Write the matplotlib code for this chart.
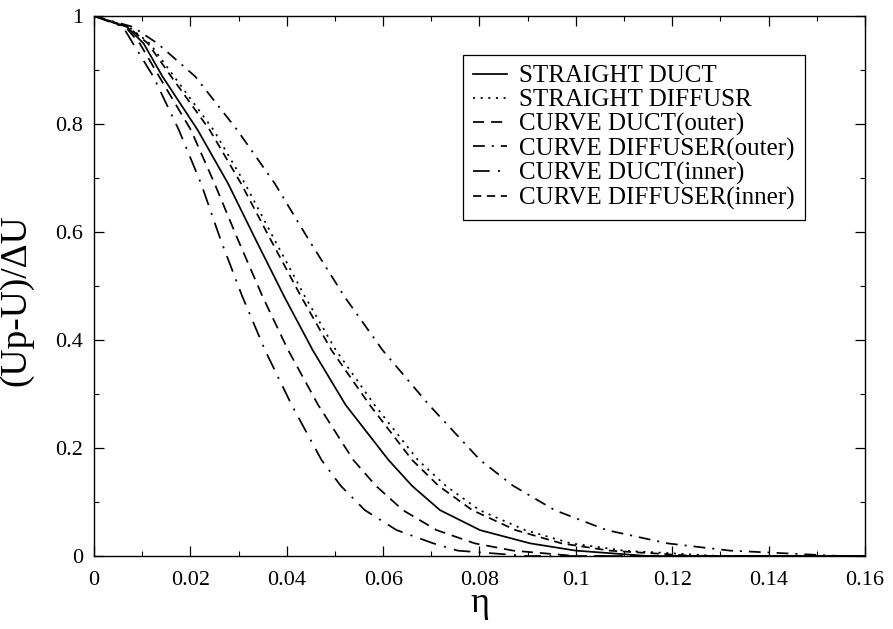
import numpy as np
import matplotlib
matplotlib.use('Agg')
import matplotlib.pyplot as plt
from matplotlib.ticker import MultipleLocator, FuncFormatter

# values: (Up-U)/dU levels and eta where each curve crosses them
levels = [1.0, 0.98, 0.949, 0.888, 0.789, 0.69, 0.585, 0.48, 0.381, 0.28,
          0.178, 0.13, 0.085, 0.048, 0.0235, 0.01, 0.0, 0.0]

eta_straight_duct = [0, 0.0068, 0.0103, 0.0142, 0.0215, 0.0278, 0.0336, 0.0395, 0.0454,
                     0.0522, 0.0611, 0.066, 0.0718, 0.0801, 0.0905, 0.100, 0.115, 0.16]
eta_straight_diffusr = [0, 0.0072, 0.0116, 0.0166, 0.0248, 0.0313, 0.0375, 0.0438, 0.0502,
                        0.0582, 0.0672, 0.073, 0.080, 0.0895, 0.099, 0.110, 0.130, 0.16]
eta_curve_duct_outer = [0, 0.0065, 0.0095, 0.0135, 0.0201, 0.025, 0.0299, 0.035, 0.0403,
                        0.0465, 0.0538, 0.0585, 0.0641, 0.0711, 0.079, 0.087, 0.100, 0.16]
eta_curve_diffuser_outer = [0, 0.008, 0.0132, 0.021, 0.0297, 0.0375, 0.0446, 0.052, 0.0599,
                            0.0695, 0.0801, 0.087, 0.0956, 0.1064, 0.119, 0.132, 0.155, 0.16]
eta_curve_duct_inner = [0, 0.006, 0.0081, 0.0123, 0.0176, 0.0222, 0.0263, 0.0308, 0.0355,
                        0.041, 0.0472, 0.0512, 0.0562, 0.0628, 0.0704, 0.0755, 0.090, 0.16]
eta_curve_diffuser_inner = [0, 0.007, 0.0112, 0.016, 0.024, 0.0305, 0.0367, 0.043, 0.0493,
                            0.0572, 0.066, 0.0715, 0.0785, 0.0875, 0.097, 0.107, 0.125, 0.16]

labels = ['STRAIGHT DUCT', 'STRAIGHT DIFFUSR', 'CURVE DUCT(outer)',
          'CURVE DIFFUSER(outer)', 'CURVE DUCT(inner)', 'CURVE DIFFUSER(inner)']

plt.rcParams['font.family'] = ['Liberation Serif', 'DejaVu Serif']
plt.rcParams['lines.scale_dashes'] = False

fig = plt.figure(figsize=(8.93, 6.29), dpi=100)
ax = fig.add_axes([0.1053, 0.116, 0.8633, 0.8586])

series = [eta_straight_duct, eta_straight_diffusr, eta_curve_duct_outer,
          eta_curve_diffuser_outer, eta_curve_duct_inner, eta_curve_diffuser_inner]
styles = ['-', (0, (1.5, 4)), (0, (8, 5)), (0, (8.5, 5, 1.5, 5)),
          (0, (12, 6, 1.5, 6)), (0, (6, 4))]
for eta, ls, lab in zip(series, styles, labels):
    ax.plot(eta, levels, color='black', lw=1.25, linestyle=ls, label=lab)

ax.set_xlim(0, 0.16)
ax.set_ylim(0, 1)
ax.xaxis.set_major_locator(MultipleLocator(0.02))
ax.xaxis.set_minor_locator(MultipleLocator(0.01))
ax.yaxis.set_major_locator(MultipleLocator(0.2))
ax.yaxis.set_minor_locator(MultipleLocator(0.1))
fmt = FuncFormatter(lambda v, p: '%g' % round(v, 4))
ax.xaxis.set_major_formatter(fmt)
ax.yaxis.set_major_formatter(fmt)
ax.tick_params(which='both', direction='in', top=True, right=True, labelsize=16)
ax.tick_params(which='major', length=7, width=0.9)
ax.tick_params(which='minor', length=3.5, width=0.8)
ax.tick_params(axis='x', pad=11)
ax.tick_params(axis='y', pad=8)
for s in ax.spines.values():
    s.set_linewidth(1.0)

ax.set_xlabel('η', fontsize=26)
ax.xaxis.set_label_coords(0.5, -0.058)
ax.set_ylabel('(Up-U)/ΔU', fontsize=27)
ax.yaxis.set_label_coords(-0.079, 0.474)

leg = ax.legend(loc='upper right', bbox_to_anchor=(0.922, 0.928), fontsize=18,
                frameon=True, fancybox=False, edgecolor='black', framealpha=1,
                handlelength=1.35, handletextpad=0.5, labelspacing=0.06,
                borderpad=0.4, borderaxespad=0)
leg.get_frame().set_linewidth(0.9)

fig.savefig('out.png', dpi=100)
